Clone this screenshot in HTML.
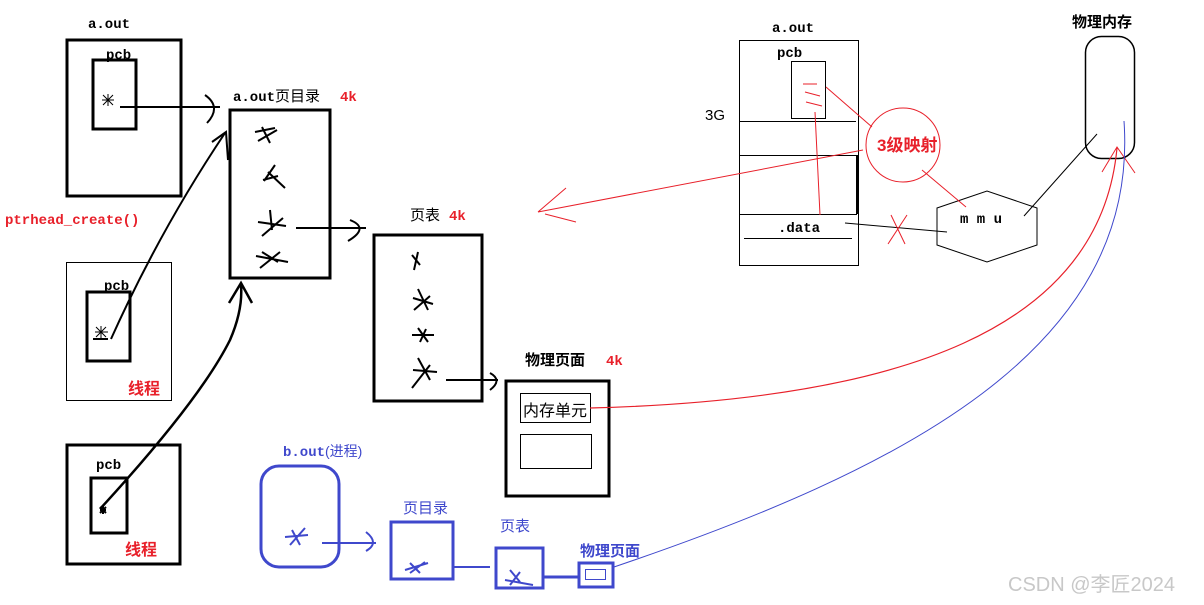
<!DOCTYPE html>
<html><head><meta charset="utf-8"><style>
html,body{margin:0;padding:0;background:#fff;}
svg{display:block}
text{font-family:"Liberation Mono","Noto Sans CJK SC",monospace;}
.c{font-family:"Liberation Sans","Noto Sans CJK SC",sans-serif;}
</style></head><body>
<svg width="1204" height="605" viewBox="0 0 1204 605" xmlns="http://www.w3.org/2000/svg">
<g fill="none" stroke="#000">
<rect x="67" y="40" width="114" height="156" stroke-width="3"/>
<rect x="93" y="60" width="43" height="69" stroke-width="3"/>
<path d="M120,107 H220 M205,95 Q222,107 207,123" stroke-width="2"/>
<rect x="66.5" y="262.5" width="105" height="138" stroke-width="1"/>
<rect x="87" y="292" width="43" height="69" stroke-width="3"/>
<path d="M93,339 H108 M111,339 Q160,230 225,133 M212,142 L226,132 L228,160" stroke-width="2"/>
<rect x="67" y="445" width="113" height="119" stroke-width="3"/>
<rect x="91" y="478" width="36" height="55" stroke-width="3"/>
<path d="M100,509 Q200,400 230,340 Q243,310 241,285 M229,303 L241,283 L252,303" stroke-width="2.5"/>
<rect x="230" y="110" width="100" height="168" stroke-width="3"/>
<path d="M296,228 H366 M350,220 Q370,228 348,241" stroke-width="2"/>
<rect x="374" y="235" width="108" height="166" stroke-width="3"/>
<path d="M446,380 H498 M490,373 Q503,380 490,390" stroke-width="2"/>
<rect x="506" y="381" width="103" height="115" stroke-width="3"/>
<rect x="520.5" y="393.5" width="70" height="29" stroke-width="1"/>
<rect x="520.5" y="434.5" width="71" height="34" stroke-width="1"/>
<g stroke-width="2">
<path d="M255,132 L275,128 M262,127 L270,143 M258,141 L277,130"/>
<path d="M264,181 L275,165 M268,172 L285,188 M263,180 L278,176"/>
<path d="M258,222 L286,226 M270,210 L272,230 M262,236 L283,218"/>
<path d="M256,256 L288,262 M262,252 L278,262 M260,268 L280,252"/>
<path d="M412,255 L420,265 M418,252 L414,270"/>
<path d="M413,298 L433,304 M418,289 L428,310 M414,310 L430,296"/>
<path d="M412,335 L434,335 M418,328 L428,342 M420,342 L426,329"/>
<path d="M413,370 L437,372 M418,358 L430,380 M412,388 L430,365"/>
<path d="M102,100 L114,100 M108,94 L108,106 M103,95 L113,105 M113,95 L103,105" stroke-width="1"/>
<path d="M95,332 L108,332 M101,326 L101,338 M96,327 L106,337 M106,327 L96,337" stroke-width="1"/>
<path d="M100,510 L106,510 M103,506 L103,514 M100,507 L106,513 M106,507 L100,513"/>
</g>
<rect x="739.5" y="40.5" width="119" height="225" stroke-width="1"/>
<rect x="791.5" y="61.5" width="34" height="57" stroke-width="1"/>
<path d="M739,121.5 H856 M739,155.5 H857 M739,214.5 H857 M744,238.5 H852" stroke-width="1"/>
<path d="M857,155 V214" stroke-width="2"/>
<path d="M845,223 L947,232 M1024,216 L1097,134" stroke-width="1"/>
<path d="M937,208 L987,191 L1037,208 L1037,245 L987,262 L937,245 Z" stroke-width="1"/>
<rect x="1085.5" y="36.5" width="49" height="122" rx="16" stroke-width="1.5"/>
</g>
<g fill="none" stroke="#e8202a" stroke-width="1">
<circle cx="903" cy="145" r="37"/>
<path d="M826,87 L872,127 M863,150 L538,212 M538,212 L566,188 M545,214 L576,222"/>
<path d="M815,112 L820,215 M922,170 L966,207 M891,215 L905,244 M907,215 L888,244"/>
<path d="M803,84 H817 M805,92 L820,96 M806,102 L822,106"/>
<path d="M590,408 C900,400 1100,330 1117,148" stroke-width="1.2"/>
<path d="M1102,172 L1117,147 L1135,173"/>
</g>
<g fill="none" stroke="#3f48cc">
<rect x="261" y="466" width="78" height="101" rx="18" stroke-width="3"/>
<rect x="391" y="522" width="62" height="57" stroke-width="3"/>
<rect x="496" y="548" width="47" height="40" stroke-width="3"/>
<rect x="579" y="563" width="34" height="24" stroke-width="3"/>
<rect x="585.5" y="569.5" width="20" height="10" stroke-width="1"/>
<path d="M322,543 H376 M366,532 Q380,543 366,551 M454,567 H490" stroke-width="2"/>
<path d="M543,577 H578" stroke-width="3"/>
<path d="M614,567 C900,470 1140,350 1124,121" stroke-width="1"/>
<g stroke-width="2">
<path d="M285,537 L308,535 M292,530 L300,545 M290,545 L305,528"/>
<path d="M405,570 L428,563 M410,563 L420,573 M410,573 L425,562"/>
<path d="M505,580 L533,585 M510,570 L520,582 M510,585 L520,572"/>
</g>
</g>
<g font-size="14" font-weight="bold" fill="#000">
<text x="88" y="28">a.out</text>
<text x="106" y="59">pcb</text>
<text x="104" y="290">pcb</text>
<text x="96" y="469">pcb</text>
<text x="233" y="101">a.out<tspan class="c" font-weight="normal" font-size="15">页目录</tspan></text>
<text x="772" y="32">a.out</text>
<text x="777" y="57">pcb</text>
<text x="778" y="232">.data</text>
<text x="960" y="223">m m u</text>
</g>
<g font-size="15" fill="#000" class="c">
<text x="410" y="220" class="c">页表</text>
<text x="525" y="365" class="c" font-weight="bold">物理页面</text>
<text x="523" y="416" class="c" font-size="16">内存单元</text>
<text x="705" y="120" class="c">3G</text>
<text x="1072" y="27" class="c" font-weight="bold">物理内存</text>
</g>
<g fill="#e8202a" font-weight="bold" font-size="14">
<text x="340" y="101">4k</text>
<text x="449" y="220">4k</text>
<text x="606" y="365">4k</text>
<text x="5" y="224">ptrhead_create()</text>
<text x="128" y="394" class="c" font-size="16">线程</text>
<text x="125" y="555" class="c" font-size="16">线程</text>
<text x="877" y="151" class="c" font-size="17">3级映射</text>
</g>
<g fill="#3f48cc" font-size="14">
<text x="283" y="456" font-weight="bold">b.out<tspan class="c" font-weight="normal">(进程)</tspan></text>
<text x="403" y="513" class="c" font-size="15">页目录</text>
<text x="500" y="531" class="c" font-size="15">页表</text>
<text x="580" y="556" class="c" font-size="15" font-weight="bold">物理页面</text>
</g>
<text x="1008" y="591" class="c" font-size="20" fill="#c8c8c8">CSDN @李匠2024</text>
</svg>
</body></html>
